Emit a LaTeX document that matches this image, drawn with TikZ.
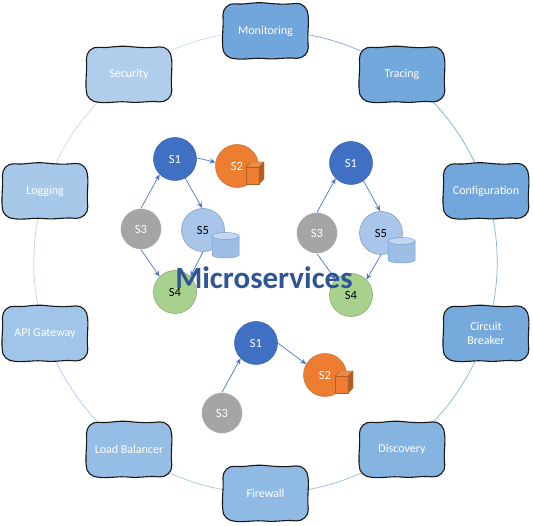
\documentclass[tikz,border=0pt]{standalone}
\usepackage{fontspec}
\setmainfont{Carlito}
\usetikzlibrary{backgrounds,arrows.meta}
\definecolor{arrowblue}{HTML}{4A76C0}
\definecolor{titleblue}{HTML}{2F5597}
\definecolor{gray3}{HTML}{A5A5A5}
\definecolor{blue1}{HTML}{4070C4}
\definecolor{orange2}{HTML}{ED7D31}
\definecolor{blue5}{HTML}{A9C6EA}
\definecolor{green4}{HTML}{A9D18E}
\definecolor{cylline}{HTML}{6F9FD8}
\tikzset{
  msbox/.style={minimum width=85pt,minimum height=55pt,inner sep=0pt,align=center,text=white,font=\fontsize{12}{14}\selectfont},
  boxline/.style={draw=black!90,line width=1.1pt},
  svc/.style={circle,inner sep=0pt,minimum size=43pt,font=\fontsize{12.5}{14}\selectfont},
  svcone/.style={svc,fill=#1,draw=#1!85!black,line width=0.5pt,text=white},
  svclight/.style={svc,fill=#1,draw=#1!80!black,line width=0.6pt,text=black},
  svcgray/.style={svc,minimum size=41pt,fill=gray3,text=white,draw=white},
  ring/.style={line width=0.7pt,looseness=0.87},
  flow/.style={draw=arrowblue,line width=0.7pt,-{Stealth[length=6pt,width=5pt]}},
}
% wobbly hand-drawn box, then the named text node on it
\newcommand{\msnode}[5]{%
  \definecolor{boxfill}{RGB}{#4}%
  \begin{scope}[shift={(#2,#3)}]
    \filldraw[boxline,fill=boxfill]
      (-30.5,-27.2) .. controls (-20,-26) and (-12,-29.3) .. (0,-28)
      .. controls (11,-26.8) and (20,-26.4) .. (30.5,-27.6)
      .. controls (37,-28.3) and (42.6,-22.5) .. (42.6,-15.5)
      .. controls (43.6,-6) and (41.4,5) .. (42.8,15.5)
      .. controls (43.4,22.5) and (37,27.8) .. (30.5,27.4)
      .. controls (20,26) and (10,28.8) .. (0,27.6)
      .. controls (-11,26.4) and (-20,29) .. (-30.5,27.8)
      .. controls (-37,27.8) and (-43.4,22.5) .. (-42.8,15.5)
      .. controls (-43.8,6) and (-41.6,-6) .. (-42.6,-15.5)
      .. controls (-42.8,-22.5) and (-37,-28) .. (-30.5,-27.2) -- cycle;
  \end{scope}
  \node[msbox] (#1) at (#2,#3) {#5};%
}
\newcommand{\cubeshape}[2]{%
  \begin{scope}[shift={(#1,#2)},draw=orange2!75!black,line width=0.4pt]
    \filldraw[fill=orange2] (0,5) rectangle (13,22);
    \filldraw[fill=orange2!90!white] (0,5) -- (5,0) -- (18,0) -- (13,5) -- cycle;
    \filldraw[fill=orange2!75!black] (13,5) -- (18,0) -- (18,17) -- (13,22) -- cycle;
  \end{scope}}
\newcommand{\cylshape}[2]{%
  \begin{scope}[shift={(#1,#2)},draw=cylline,line width=0.5pt]
    \filldraw[fill=blue5!90!arrowblue] (0,4) -- (0,23) arc[x radius=13.5,y radius=3,start angle=180,end angle=0] -- (27,4) -- cycle;
    \filldraw[fill=blue5!70!white] (13.5,4) ellipse[x radius=13.5,y radius=3.5];
  \end{scope}}
\begin{document}
\begin{tikzpicture}[x=1pt,y=-1pt]
\useasboundingbox (0,0) rectangle (533,526);
% ring boxes
\msnode{mon}{265.5}{31}{112,166,219}{Monitoring}
\msnode{tra}{402}{74.5}{114,168,220}{Tracing}
\msnode{con}{486}{191}{113,167,218}{Configuration}
\msnode{cir}{486}{333.5}{118,170,220}{Circuit\\Breaker}
\msnode{dis}{402}{449.5}{133,180,224}{Discovery}
\msnode{fir}{265.5}{493.5}{143,186,228}{Firewall}
\msnode{lb}{129}{449.5}{149,189,229}{Load Balancer}
\msnode{api}{45}{333.5}{161,197,232}{API Gateway}
\msnode{log}{45}{191}{166,201,234}{Logging}
\msnode{sec}{129}{74.5}{176,206,236}{Security}
\begin{scope}[on background layer]
\draw[ring,draw={rgb,255:red,125;green,170;blue,215}] (mon.center) to[bend left=18] (tra.center);
\draw[ring,draw={rgb,255:red,125;green,170;blue,215}] (tra.center) to[bend left=18] (con.center);
\draw[ring,draw={rgb,255:red,130;green,175;blue,220}] (con.center) to[bend left=18] (cir.center);
\draw[ring,draw={rgb,255:red,140;green,182;blue,225}] (cir.center) to[bend left=18] (dis.center);
\draw[ring,draw={rgb,255:red,150;green,188;blue,228}] (dis.center) to[bend left=18] (fir.center);
\draw[ring,draw={rgb,255:red,165;green,198;blue,232}] (fir.center) to[bend left=18] (lb.center);
\draw[ring,draw={rgb,255:red,175;green,205;blue,235}] (lb.center) to[bend left=18] (api.center);
\draw[ring,draw={rgb,255:red,185;green,210;blue,238}] (api.center) to[bend left=18] (log.center);
\draw[ring,draw={rgb,255:red,195;green,216;blue,240}] (log.center) to[bend left=18] (sec.center);
\draw[ring,draw={rgb,255:red,200;green,220;blue,242}] (sec.center) to[bend left=18] (mon.center);
\end{scope}
% left group
\node[svcone=blue1] (a1) at (175,159) {S1};
\node[svcone=orange2] (a2) at (237,166) {S2};
\node[svcgray] (a3) at (141,229) {S3};
\node[svclight=blue5] (a5) at (203,230) {S5};
\node[svclight=green4] (a4) at (175,292) {\raisebox{-1.5pt}{S4}};
\cubeshape{246}{162}
\cylshape{212}{232}
\draw[flow] (a1.3) -- (a2.170);
\draw[flow] (a1.-62) -- (a5.92);
\draw[flow] (a3.90) -- (a1.-135);
\draw[flow] (a3.-90) -- (a4.135);
\draw[flow] (a5.-90) -- (a4.45);
% right group
\node[svcone=blue1] (b1) at (351,163) {S1};
\node[svcgray] (b3) at (317,233) {S3};
\node[svclight=blue5] (b5) at (381,233) {S5};
\node[svclight=green4] (b4) at (351,295) {S4};
\cylshape{388}{237}
\draw[flow] (b3.90) -- (b1.-135);
\draw[flow] (b1.-55) -- (b5.92);
\draw[flow] (b5.-90) -- (b4.45);
\draw[flow] (b3.-90) -- (b4.135);
% bottom group
\node[svcone=blue1] (c1) at (256,343) {S1};
\node[svcone=orange2] (c2) at (325,375) {S2};
\node[svcgray] (c3) at (222,413) {S3};
\cubeshape{335}{371}
\draw[flow] (c1.0) -- (c2.150);
\draw[flow] (c3.90) -- (c1.-135);
% title
\node[text=titleblue,font=\fontsize{31}{34}\selectfont\bfseries,inner sep=0pt] (title) at (264,278) {Microservices};
\end{tikzpicture}
\end{document}
